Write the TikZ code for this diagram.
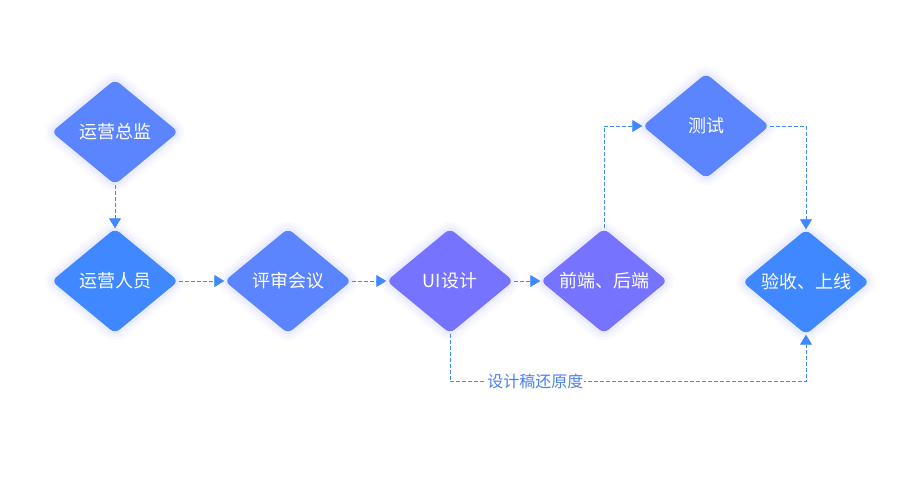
\documentclass[tikz,border=0pt]{standalone}
\usepackage{fontspec}
\setmainfont{Noto Sans CJK SC}
\usetikzlibrary{shapes.geometric,arrows.meta}
\definecolor{cblue}{HTML}{3F88FF}
\definecolor{clight}{HTML}{5B84FF}
\definecolor{cpurple}{HTML}{7573FF}
\definecolor{cglow}{HTML}{6F7DFF}
\definecolor{cline}{HTML}{3F88FF}
\definecolor{ctext}{HTML}{4A80F5}
\begin{document}
\begin{tikzpicture}[x=1pt,y=-1pt,
  dnode/.style={diamond, aspect=1.2, minimum width=127pt, minimum height=105pt,
    inner sep=0pt, rounded corners=6pt, text=white, line join=round,
    font=\fontsize{18}{21}\selectfont,
    preaction={draw=cglow, line width=18pt, draw opacity=0.035},
    preaction={draw=cglow, line width=12pt, draw opacity=0.045},
    preaction={draw=cglow, line width=6pt, draw opacity=0.06}},
  conn/.style={draw=cline, line width=0.8pt, dash pattern=on 4pt off 2pt,
    -{Triangle[length=10pt,width=12pt,fill=cline]}},
  lbl/.style={fill=white, inner sep=1pt, text=ctext, font=\fontsize{16}{19}\selectfont}]
\useasboundingbox[fill=white] (0,0) rectangle (900,500);
\node[dnode, fill=clight]  (zj) at (115,132) {运营总监};
\node[dnode, fill=cblue]   (ry) at (115,281) {运营人员};
\node[dnode, fill=clight]  (ps) at (288,281) {评审会议};
\node[dnode, fill=cpurple] (ui) at (450,281) {UI设计};
\node[dnode, fill=cpurple] (qd) at (604,281) {前端、后端};
\node[dnode, fill=clight]  (cs) at (706,126) {测试};
\node[dnode, fill=cblue]   (ys) at (806,282) {验收、上线};
\draw[conn] (zj.south) -- (ry.north);
\draw[conn] (ry.east) -- (ps.west);
\draw[conn] (ps.east) -- (ui.west);
\draw[conn] (ui.east) -- (qd.west);
\draw[conn] (qd.north) |- (cs.west);
\draw[conn] (cs.east) -| (ys.north);
\draw[conn] (ui.south) -- ++(0,48) -| node[lbl, pos=0.12] {设计稿还原度} (ys.south);
\end{tikzpicture}
\end{document}
